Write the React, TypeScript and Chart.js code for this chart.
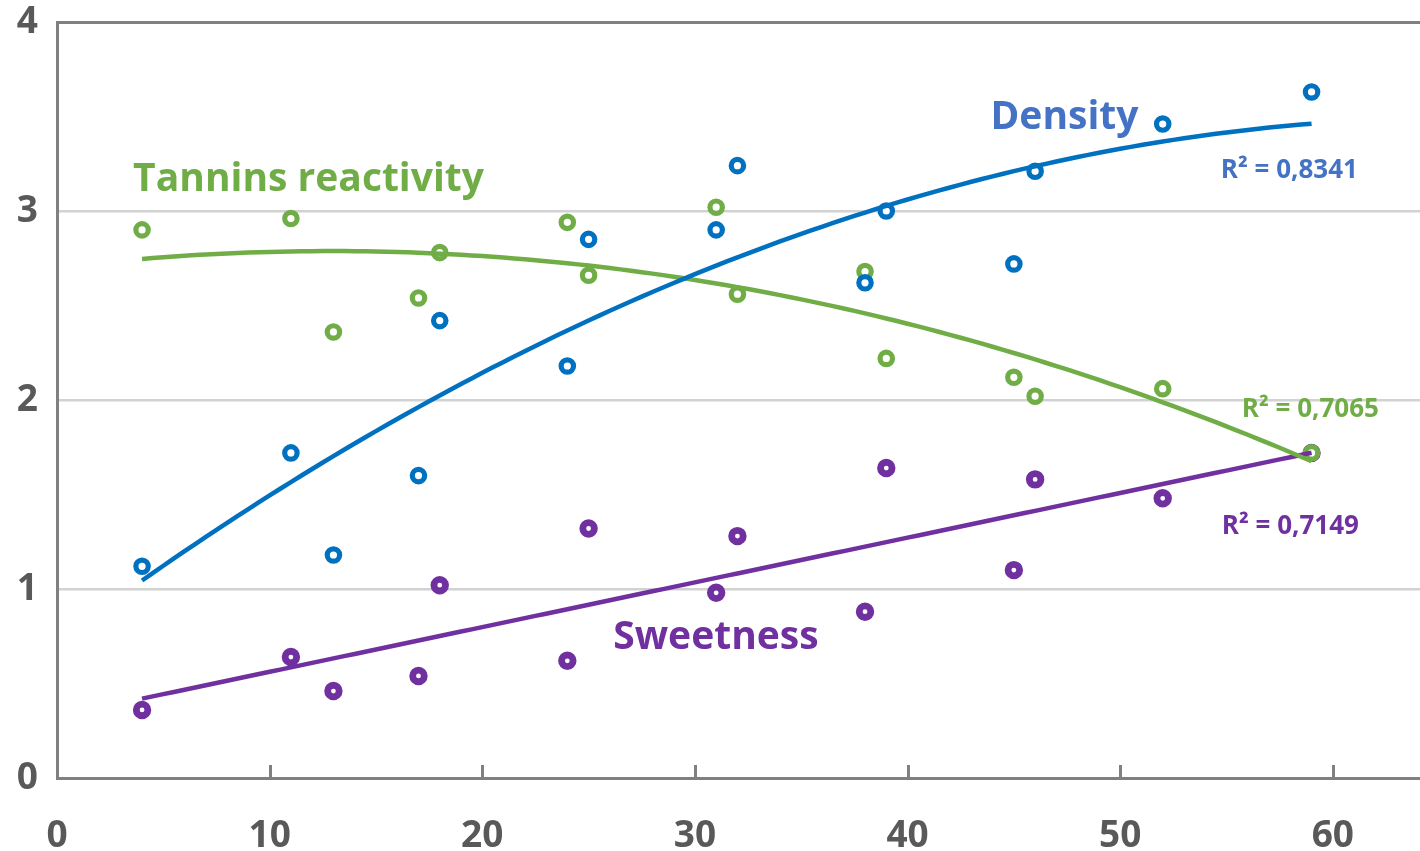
import React, { useEffect, useRef } from 'react';
import { Chart, registerables } from 'chart.js';

Chart.register(...registerables);

// ---- Data ----
const ages = [4, 11, 13, 17, 18, 24, 25, 31, 32, 38, 39, 45, 46, 52, 59];
const density = [1.12, 1.72, 1.18, 1.6, 2.42, 2.18, 2.85, 2.9, 3.24, 2.62, 3.0, 2.72, 3.21, 3.46, 3.63];
const tannins = [2.9, 2.96, 2.36, 2.54, 2.78, 2.94, 2.66, 3.02, 2.56, 2.68, 2.22, 2.12, 2.02, 2.06, 1.72];
const sweetness = [0.36, 0.64, 0.46, 0.54, 1.02, 0.62, 1.32, 0.98, 1.28, 0.88, 1.64, 1.1, 1.58, 1.48, 1.72];

const xTickValues = [0, 10, 20, 30, 40, 50, 60];
const yTickValues = [0, 1, 2, 3, 4];

const seriesNames = ['Density', 'Tannins reactivity', 'Sweetness'];
const r2Labels = ['R² = 0,8341', 'R² = 0,7065', 'R² = 0,7149'];
const trendDegrees = [2, 2, 1];

// label anchor positions in data units (left edge, vertical centre)
const nameX = [43.9, 3.58, 26.16];
const nameY = [3.495, 3.165, 0.742];
const r2X = [54.73, 55.72, 54.78];
const r2Y = [3.215, 1.95, 1.33];

// ---- Styles ----
const markerColors = ['#0070C0', '#70AD47', '#7030A0'];
const textColors = ['#4472C4', '#70AD47', '#7030A0'];
const AXIS = '#808080';
const GRID = '#d2d2d2';
const TICK_TEXT = '#595959';
const FONT = '"Open Sans"';

function polyFit(xs: number[], ys: number[], deg: number): number[] {
  const n = deg + 1;
  const A: number[][] = Array.from({ length: n }, () => Array(n + 1).fill(0));
  for (let i = 0; i < xs.length; i++) {
    for (let r = 0; r < n; r++) {
      for (let c = 0; c < n; c++) A[r][c] += Math.pow(xs[i], r + c);
      A[r][n] += ys[i] * Math.pow(xs[i], r);
    }
  }
  for (let col = 0; col < n; col++) {
    let piv = col;
    for (let r = col + 1; r < n; r++) if (Math.abs(A[r][col]) > Math.abs(A[piv][col])) piv = r;
    [A[col], A[piv]] = [A[piv], A[col]];
    for (let r = 0; r < n; r++) {
      if (r === col) continue;
      const f = A[r][col] / A[col][col];
      for (let c = col; c <= n; c++) A[r][c] -= f * A[col][c];
    }
  }
  return A.map((row, i) => row[n] / row[i]);
}

function trendPoints(xs: number[], ys: number[], deg: number) {
  const coef = polyFit(xs, ys, deg);
  const lo = Math.min(...xs);
  const hi = Math.max(...xs);
  const pts: { x: number; y: number }[] = [];
  const steps = 110;
  for (let i = 0; i <= steps; i++) {
    const xv = lo + ((hi - lo) * i) / steps;
    let yv = 0;
    coef.forEach((c, k) => (yv += c * Math.pow(xv, k)));
    pts.push({ x: xv, y: yv });
  }
  return pts;
}

const overlayPlugin = {
  id: 'overlay',
  afterDraw(chart: any) {
    const { ctx, chartArea } = chart;
    const xs = chart.scales.x;
    const ys = chart.scales.y;
    ctx.save();
    // inward tick marks + labels on the x axis
    ctx.strokeStyle = AXIS;
    ctx.lineWidth = 3;
    ctx.fillStyle = TICK_TEXT;
    ctx.font = `bold 37px ${FONT}`;
    ctx.textAlign = 'center';
    ctx.textBaseline = 'middle';
    xTickValues.forEach((v) => {
      const px = xs.getPixelForValue(v);
      if (v !== 0) {
        const lx = Math.round(px) + 0.5;
        ctx.beginPath();
        ctx.moveTo(lx, chartArea.bottom);
        ctx.lineTo(lx, chartArea.bottom - 13);
        ctx.stroke();
      }
      ctx.fillText(String(v), px, chartArea.bottom + 58);
    });
    ctx.textAlign = 'left';
    seriesNames.forEach((name, i) => {
      ctx.fillStyle = textColors[i];
      ctx.font = `bold 39px ${FONT}`;
      ctx.fillText(name, xs.getPixelForValue(nameX[i]), ys.getPixelForValue(nameY[i]));
      ctx.font = `bold 26px ${FONT}`;
      ctx.fillText(r2Labels[i], xs.getPixelForValue(r2X[i]), ys.getPixelForValue(r2Y[i]));
    });
    ctx.restore();
  },
};

export default function App() {
  const ref = useRef<HTMLCanvasElement | null>(null);

  useEffect(() => {
    document.body.style.margin = '0';
    if (!ref.current) return;
    const seriesValues = [density, tannins, sweetness];

    const trendSets = seriesValues.map((vals, i) => ({
      type: 'line' as const,
      label: seriesNames[i] + ' trend',
      data: trendPoints(ages, vals, trendDegrees[i]),
      borderColor: markerColors[i],
      borderWidth: 4.5,
      pointRadius: 0,
      fill: false,
      tension: 0,
      order: 0,
    }));

    const pointSets = seriesValues.map((vals, i) => ({
      type: 'scatter' as const,
      label: seriesNames[i],
      data: ages.map((a, k) => ({ x: a, y: vals[k] })),
      borderColor: markerColors[i],
      backgroundColor: '#ffffff',
      pointRadius: i === 2 ? 5.8 : 6.2,
      borderWidth: i === 2 ? 6.8 : 5.2,
      pointStyle: 'circle',
      order: 1,
    }));

    const chart = new Chart(ref.current, {
      type: 'scatter',
      data: { datasets: [...pointSets, ...trendSets] as any },
      plugins: [overlayPlugin],
      options: {
        responsive: false,
        animation: false,
        events: [],
        layout: { autoPadding: false, padding: { top: 22, right: 0, left: 0, bottom: 0 } },
        plugins: { legend: { display: false }, tooltip: { enabled: false } },
        scales: {
          x: {
            type: 'linear',
            min: 0,
            max: 64.1,
            afterBuildTicks: (scale: any) => {
              scale.ticks = xTickValues.map((v) => ({ value: v }));
            },
            afterFit: (scale: any) => {
              scale.height = 73;
            },
            grid: { display: false, drawTicks: false },
            border: { display: true, color: AXIS, width: 3 },
            ticks: { display: false },
          },
          y: {
            type: 'linear',
            min: 0,
            max: 4,
            afterBuildTicks: (scale: any) => {
              scale.ticks = yTickValues.map((v) => ({ value: v }));
            },
            afterFit: (scale: any) => {
              scale.width = 57;
              scale.paddingTop = 0;
              scale.paddingBottom = 0;
            },
            grid: {
              drawTicks: false,
              color: (c: any) => (c.tick && c.tick.value === 4 ? AXIS : c.tick && c.tick.value === 0 ? 'rgba(0,0,0,0)' : GRID),
              lineWidth: (c: any) => (c.tick && c.tick.value === 4 ? 3 : 2.5),
            },
            border: { display: true, color: AXIS, width: 3 },
            ticks: {
              padding: 19,
              color: TICK_TEXT,
              font: { family: 'Open Sans', size: 37, weight: 'bold' },
            },
          },
        },
      } as any,
    });
    return () => chart.destroy();
  }, []);

  return (
    <div style={{ width: 1420, height: 851 }}>
      <canvas ref={ref} width={1420} height={851} style={{ display: 'block' }} />
    </div>
  );
}
